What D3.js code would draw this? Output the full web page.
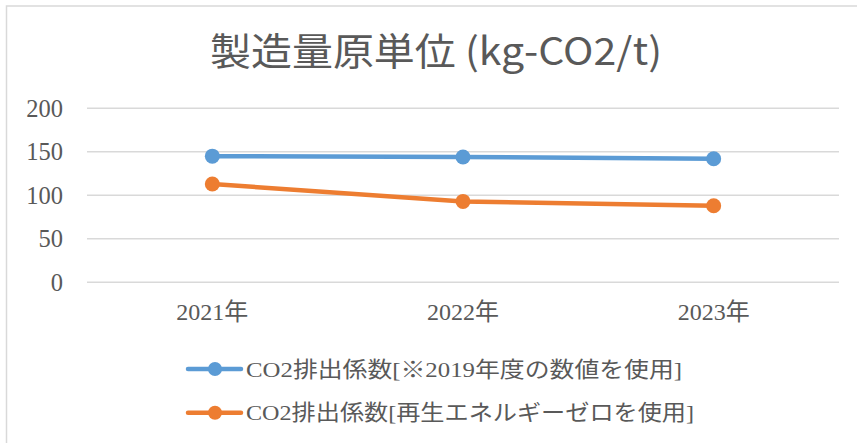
<!DOCTYPE html>
<html>
<head>
<meta charset="utf-8">
<script src="https://cdn.jsdelivr.net/npm/d3@7"></script>
<style>
  html, body { margin: 0; padding: 0; background: #fff; }
  svg { display: block; }
</style>
</head>
<body>
<svg width="857" height="443"></svg>
<script>
const years = ["2021年", "2022年", "2023年"];
const seriesNames = ["CO2排出係数[※2019年度の数値を使用]", "CO2排出係数[再生エネルギーゼロを使用]"];
const blueValues = [145, 144, 142];
const orangeValues = [113, 93, 88];
const yTicks = [0, 50, 100, 150, 200];
const colors = ["#5B9BD5", "#ED7D31"];

const svg = d3.select("svg");
const margin = { top: 108.3, right: 18, bottom: 160.7, left: 87 };
const width = 857 - margin.left - margin.right;
const height = 443 - margin.top - margin.bottom;
const textColor = "#595959";
const serif = "'Liberation Serif', 'Noto Sans CJK JP', serif";

// chart border (right and bottom edges fall outside the frame)
svg.append("rect")
  .attr("x", 6.5).attr("y", 6)
  .attr("width", 880).attr("height", 460)
  .attr("fill", "none")
  .attr("stroke", "#d9d9d9")
  .attr("stroke-width", 1.5);

// title
svg.append("text")
  .attr("x", 210)
  .attr("y", 65)
  .attr("textLength", 452)
  .attr("lengthAdjust", "spacingAndGlyphs")
  .style("font-family", "'Noto Sans CJK JP', sans-serif")
  .style("font-size", "38px")
  .style("fill", textColor)
  .text("製造量原単位 (kg-CO2/t)");

const g = svg.append("g").attr("transform", `translate(${margin.left},${margin.top})`);

const x = d3.scaleBand().domain(years).range([0, width]);
const y = d3.scaleLinear().domain([0, 200]).range([height, 0]);

// gridlines
g.append("g")
  .selectAll("line")
  .data(yTicks)
  .enter().append("line")
  .attr("x1", 0).attr("x2", width)
  .attr("y1", d => y(d)).attr("y2", d => y(d))
  .attr("stroke", "#d9d9d9")
  .attr("stroke-width", 1.5);

// Y axis
const yAxis = g.append("g")
  .call(d3.axisLeft(y).tickValues(yTicks).tickSize(0).tickPadding(24));
yAxis.select(".domain").remove();
yAxis.selectAll("text")
  .style("font-family", serif)
  .style("font-size", "24.5px")
  .style("fill", textColor);

// X axis
const xAxis = g.append("g")
  .attr("transform", `translate(0,${height})`)
  .call(d3.axisBottom(x).tickSize(0).tickPadding(21));
xAxis.select(".domain").remove();
xAxis.selectAll("text")
  .style("font-family", serif)
  .style("font-size", "24px")
  .style("fill", textColor);

const series = [blueValues, orangeValues];
const line = d3.line()
  .x((d, i) => x(years[i]) + x.bandwidth() / 2)
  .y(d => y(d));

series.forEach((vals, s) => {
  g.append("path")
    .datum(vals)
    .attr("fill", "none")
    .attr("stroke", colors[s])
    .attr("stroke-width", 4.5)
    .attr("stroke-linejoin", "round")
    .attr("stroke-linecap", "round")
    .attr("d", line);

  g.selectAll(".pt" + s)
    .data(vals)
    .enter().append("circle")
    .attr("cx", (d, i) => x(years[i]) + x.bandwidth() / 2)
    .attr("cy", d => y(d))
    .attr("r", 7.5)
    .attr("fill", colors[s]);
});

// legend
const legendLen = [436, 448];
const legend = svg.append("g");
seriesNames.forEach((name, s) => {
  const ly = 369 + s * 43.7;
  legend.append("line")
    .attr("x1", 188).attr("x2", 241)
    .attr("y1", ly).attr("y2", ly)
    .attr("stroke", colors[s])
    .attr("stroke-width", 4.5)
    .attr("stroke-linecap", "round");
  legend.append("circle")
    .attr("cx", 215).attr("cy", ly).attr("r", 7)
    .attr("fill", colors[s]);
  legend.append("text")
    .attr("x", 246)
    .attr("y", ly)
    .attr("dy", "0.35em")
    .attr("textLength", legendLen[s])
    .attr("lengthAdjust", "spacingAndGlyphs")
    .style("font-family", serif)
    .style("font-size", "22px")
    .style("fill", textColor)
    .text(name);
});
</script>
</body>
</html>
